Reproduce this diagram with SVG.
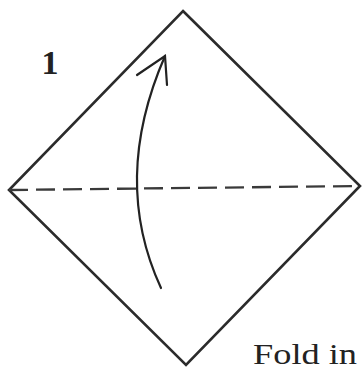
<svg xmlns="http://www.w3.org/2000/svg" width="362" height="371" viewBox="0 0 362 371">
  <style>
    .edge { fill: none; stroke: #2b2b2b; stroke-width: 2.6; stroke-linejoin: miter; }
    .fold { fill: none; stroke: #3a3a3a; stroke-width: 2.3; stroke-dasharray: 19 8; }
    .arrow { fill: none; stroke: #222; stroke-width: 2.2; stroke-linecap: round; }
    .label { font-family: "Liberation Serif", "DejaVu Serif", serif; fill: #222; }
  </style>
  <rect width="362" height="371" fill="#ffffff"/>
  <g id="paper">
    <polygon class="edge" points="183,11 360,186 186,365 9,190"/>
  </g>
  <g id="connectors">
    <line class="fold" x1="9" y1="190" x2="360" y2="186"/>
    <path class="arrow" d="M161,288 Q111,180 165,56"/>
    <path class="arrow" d="M137,75 L165,56 L167,85"/>
  </g>
  <g id="step-number">
    <text class="label" x="50" y="74" font-size="34" font-weight="bold" text-anchor="middle">1</text>
  </g>
  <g id="caption">
    <text class="label" x="253" y="364" font-size="30" textLength="104" lengthAdjust="spacingAndGlyphs">Fold in</text>
  </g>
</svg>
